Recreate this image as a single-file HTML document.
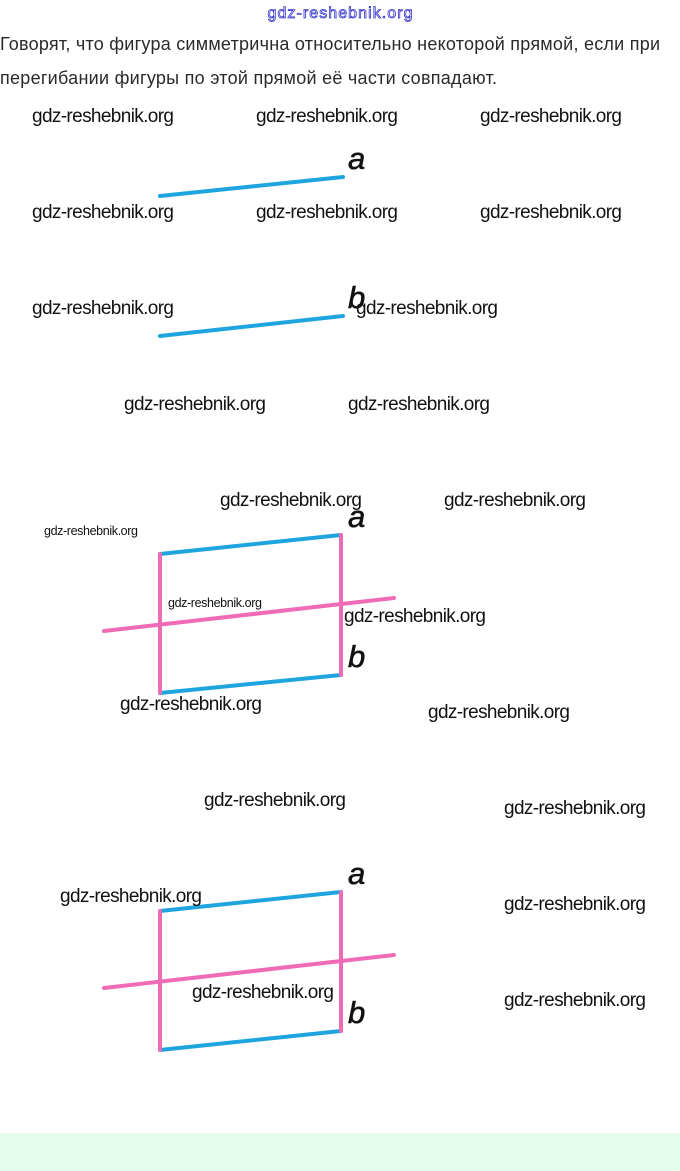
<!DOCTYPE html>
<html><head><meta charset="utf-8"><style>
html,body{margin:0;padding:0;background:#fff;width:680px;height:1171px;overflow:hidden}
svg{display:block}
.w{font-family:"Liberation Sans",sans-serif;font-size:19px;fill:#111}
.s{font-family:"Liberation Sans",sans-serif;font-size:12.5px;fill:#111}
.l{font-family:"Liberation Sans",sans-serif;font-size:31px;font-style:italic;fill:#111;stroke:#111;stroke-width:0.6}
.t{font-family:"Liberation Sans","DejaVu Sans",sans-serif;font-size:18px;fill:#2a2a2a}
</style></head><body>
<svg width="680" height="1171" viewBox="0 0 680 1171">
<rect x="0" y="1133" width="680" height="38" fill="#e4fcee"/>
<text x="340" y="18" text-anchor="middle" font-family="Liberation Sans,sans-serif" font-size="16" fill="#fff" stroke="#3333cc" stroke-width="0.8" textLength="145">gdz-reshebnik.org</text>
<text class="t" x="0" y="50" textLength="660">Говорят, что фигура симметрична относительно некоторой прямой, если при</text>
<text class="t" x="0" y="84" textLength="497">перегибании фигуры по этой прямой её части совпадают.</text>
<g stroke-linecap="round" stroke-width="4" fill="none">
<line x1="160" y1="196" x2="343" y2="177" stroke="#1ea5e0"/>
<line x1="160" y1="336" x2="343" y2="316" stroke="#1ea5e0"/>
<line x1="104" y1="631" x2="394" y2="598" stroke="#f06bb5"/>
<line x1="160" y1="554" x2="341" y2="535" stroke="#1ea5e0"/>
<line x1="160" y1="693" x2="341" y2="675" stroke="#1ea5e0"/>
<line x1="160" y1="554" x2="160" y2="693" stroke="#f06bb5"/>
<line x1="341" y1="535" x2="341" y2="675" stroke="#f06bb5"/>
<line x1="104" y1="988" x2="394" y2="955" stroke="#f06bb5"/>
<line x1="160" y1="911" x2="341" y2="892" stroke="#1ea5e0"/>
<line x1="160" y1="1050" x2="341" y2="1031" stroke="#1ea5e0"/>
<line x1="160" y1="911" x2="160" y2="1050" stroke="#f06bb5"/>
<line x1="341" y1="892" x2="341" y2="1031" stroke="#f06bb5"/>
</g>
<text class="l" x="348" y="169">a</text>
<text class="l" x="348" y="308">b</text>
<text class="l" x="348" y="527">a</text>
<text class="l" x="348" y="667">b</text>
<text class="l" x="348" y="884">a</text>
<text class="l" x="348" y="1023">b</text>
<g class="w">
<text x="32" y="122" textLength="142">gdz-reshebnik.org</text>
<text x="256" y="122" textLength="142">gdz-reshebnik.org</text>
<text x="480" y="122" textLength="142">gdz-reshebnik.org</text>
<text x="32" y="218" textLength="142">gdz-reshebnik.org</text>
<text x="256" y="218" textLength="142">gdz-reshebnik.org</text>
<text x="480" y="218" textLength="142">gdz-reshebnik.org</text>
<text x="32" y="314" textLength="142">gdz-reshebnik.org</text>
<text x="356" y="314" textLength="142">gdz-reshebnik.org</text>
<text x="124" y="410" textLength="142">gdz-reshebnik.org</text>
<text x="348" y="410" textLength="142">gdz-reshebnik.org</text>
<text x="220" y="506" textLength="142">gdz-reshebnik.org</text>
<text x="444" y="506" textLength="142">gdz-reshebnik.org</text>
<text x="344" y="622" textLength="142">gdz-reshebnik.org</text>
<text x="120" y="710" textLength="142">gdz-reshebnik.org</text>
<text x="428" y="718" textLength="142">gdz-reshebnik.org</text>
<text x="204" y="806" textLength="142">gdz-reshebnik.org</text>
<text x="504" y="814" textLength="142">gdz-reshebnik.org</text>
<text x="60" y="902" textLength="142">gdz-reshebnik.org</text>
<text x="504" y="910" textLength="142">gdz-reshebnik.org</text>
<text x="192" y="998" textLength="142">gdz-reshebnik.org</text>
<text x="504" y="1006" textLength="142">gdz-reshebnik.org</text>
</g>
<text class="s" x="44" y="535" textLength="94">gdz-reshebnik.org</text>
<text class="s" x="168" y="607" textLength="94">gdz-reshebnik.org</text>
</svg>
</body></html>
